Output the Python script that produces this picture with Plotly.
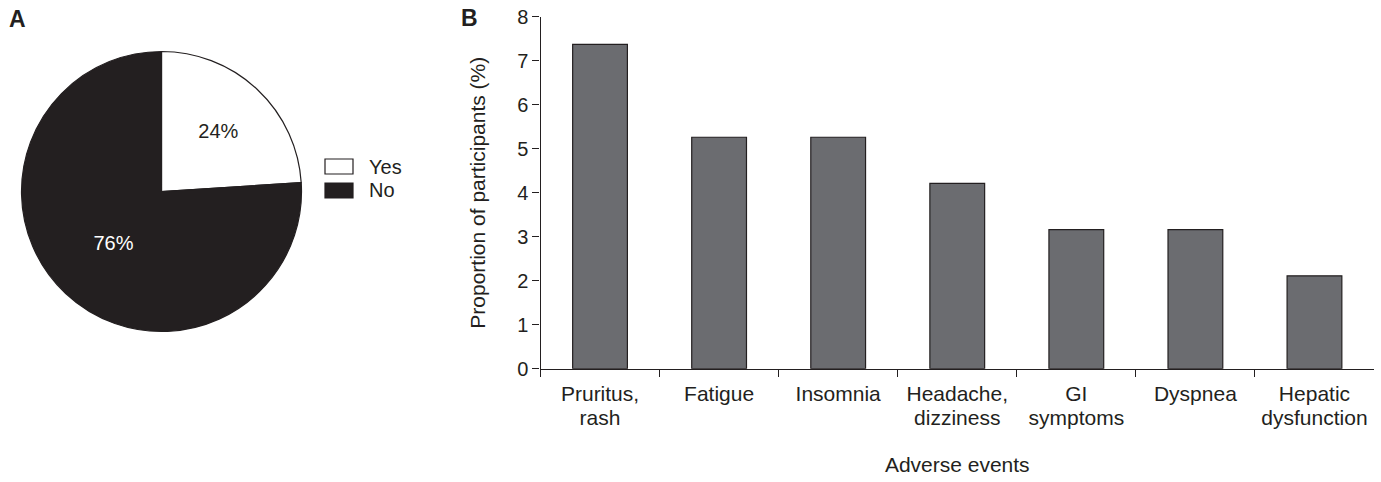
import plotly.graph_objects as go

W, H = 1381, 482

# ---- Data ----
pie_labels = ["Yes", "No"]
pie_values = [24, 76]
pie_colors = ["#ffffff", "#231f20"]
pie_text_colors = ["#231f20", "#ffffff"]

label_line1 = ["Pruritus,", "Fatigue", "Insomnia", "Headache,", "GI", "Dyspnea", "Hepatic"]
label_line2 = ["rash", "", "", "dizziness", "symptoms", "", "dysfunction"]
categories = [(a + " " + b).strip() for a, b in zip(label_line1, label_line2)]
proportions = [7.37, 5.26, 5.26, 4.21, 3.16, 3.16, 2.11]
y_ticks = [0, 1, 2, 3, 4, 5, 6, 7, 8]

INK = "#231f20"
FONT = "Liberation Sans, Arial, Helvetica, sans-serif"

def px_x(x):
    return x / W

def px_y(y):
    return 1 - y / H

X0, X1 = 540.5, 1374.0     # bar plot area, pixels
Y8, Y0 = 16.7, 368.7
LINE_GAP = 17              # offset of the second tick-label row

fig = go.Figure()

# ---- Pie (panel A) ----
fig.add_trace(go.Pie(
    labels=pie_labels,
    values=pie_values,
    sort=False,
    direction="clockwise",
    rotation=0,
    marker=dict(colors=pie_colors, line=dict(color=INK, width=1.2)),
    texttemplate="%{value}%",
    textposition="inside",
    insidetextorientation="horizontal",
    insidetextfont=dict(color=pie_text_colors, size=20, family=FONT),
    domain=dict(x=[px_x(21.5), px_x(301.5)], y=[px_y(331.5), px_y(51.5)]),
    showlegend=False,
    hoverinfo="label+percent",
))

# ---- Bars (panel B) ----
fig.add_trace(go.Bar(
    x=categories,
    y=proportions,
    marker=dict(color="#6b6c70", line=dict(color=INK, width=1.2)),
    width=0.46,
    showlegend=False,
    xaxis="x", yaxis="y",
))
# invisible companion trace so the second tick-label row (xaxis2) is drawn
fig.add_trace(go.Scatter(
    x=categories, y=proportions, mode="none",
    xaxis="x2", yaxis="y", hoverinfo="skip", showlegend=False,
))

tick_font = dict(size=21, color=INK, family=FONT)

fig.update_layout(
    width=W, height=H,
    margin=dict(l=0, r=0, t=0, b=0),
    paper_bgcolor="white",
    plot_bgcolor="white",
    font=dict(family=FONT, color=INK, size=20),
    xaxis=dict(
        domain=[px_x(X0), px_x(X1)],
        anchor="y",
        type="category",
        range=[-0.5, len(categories) - 0.5],
        tickvals=categories,
        ticktext=label_line1,
        showline=True, linecolor=INK, linewidth=1.2,
        ticks="outside", ticklen=7, tickcolor=INK, tickwidth=1.2,
        tickson="boundaries",
        ticklabelstandoff=6,
        showgrid=False, zeroline=False,
        tickfont=tick_font,
        automargin=False,
    ),
    xaxis2=dict(
        domain=[px_x(X0), px_x(X1)],
        anchor="free",
        overlaying="x",
        side="bottom",
        position=px_y(Y0 + LINE_GAP),
        type="category",
        range=[-0.5, len(categories) - 0.5],
        tickvals=categories,
        ticktext=label_line2,
        showline=False,
        ticks="outside", ticklen=7, tickcolor="rgba(0,0,0,0)",
        ticklabelstandoff=6,
        showgrid=False, zeroline=False,
        tickfont=tick_font,
        title=dict(text="Adverse events", font=dict(size=21, color=INK, family=FONT), standoff=29),
        automargin=False,
    ),
    yaxis=dict(
        domain=[px_y(Y0), px_y(Y8)],
        anchor="x",
        range=[0, 8],
        tickvals=y_ticks,
        showline=True, linecolor=INK, linewidth=1.2,
        ticks="outside", ticklen=7, tickcolor=INK, tickwidth=1.2,
        showgrid=False, zeroline=False,
        tickfont=dict(size=20, color=INK, family=FONT),
        title=dict(text="Proportion of participants (%)", font=dict(size=21, color=INK, family=FONT), standoff=25),
        automargin=False,
    ),
)

# Legend for the pie (boxes drawn as shapes, labels as text)
legend_y = [166.5, 190.5]
for i, lab in enumerate(pie_labels):
    yc = legend_y[i]
    fig.add_shape(type="rect", xref="paper", yref="paper",
                  x0=px_x(325), x1=px_x(353), y0=px_y(yc + 7.5), y1=px_y(yc - 7.5),
                  line=dict(color=INK, width=1.2), fillcolor=pie_colors[i])
    fig.add_annotation(xref="paper", yref="paper", x=px_x(367), y=px_y(yc),
                       text=lab, showarrow=False, xanchor="left", yanchor="middle",
                       font=dict(size=20, color=INK, family=FONT))

# Panel letters
fig.add_annotation(xref="paper", yref="paper", x=px_x(7), y=px_y(19), text="<b>A</b>",
                   showarrow=False, xanchor="left", yanchor="middle",
                   font=dict(size=23, color=INK, family=FONT))
fig.add_annotation(xref="paper", yref="paper", x=px_x(459), y=px_y(18), text="<b>B</b>",
                   showarrow=False, xanchor="left", yanchor="middle",
                   font=dict(size=23, color=INK, family=FONT))

fig.write_html("out.html", config={"displayModeBar": False},
               post_script="document.body.style.margin='0';")
